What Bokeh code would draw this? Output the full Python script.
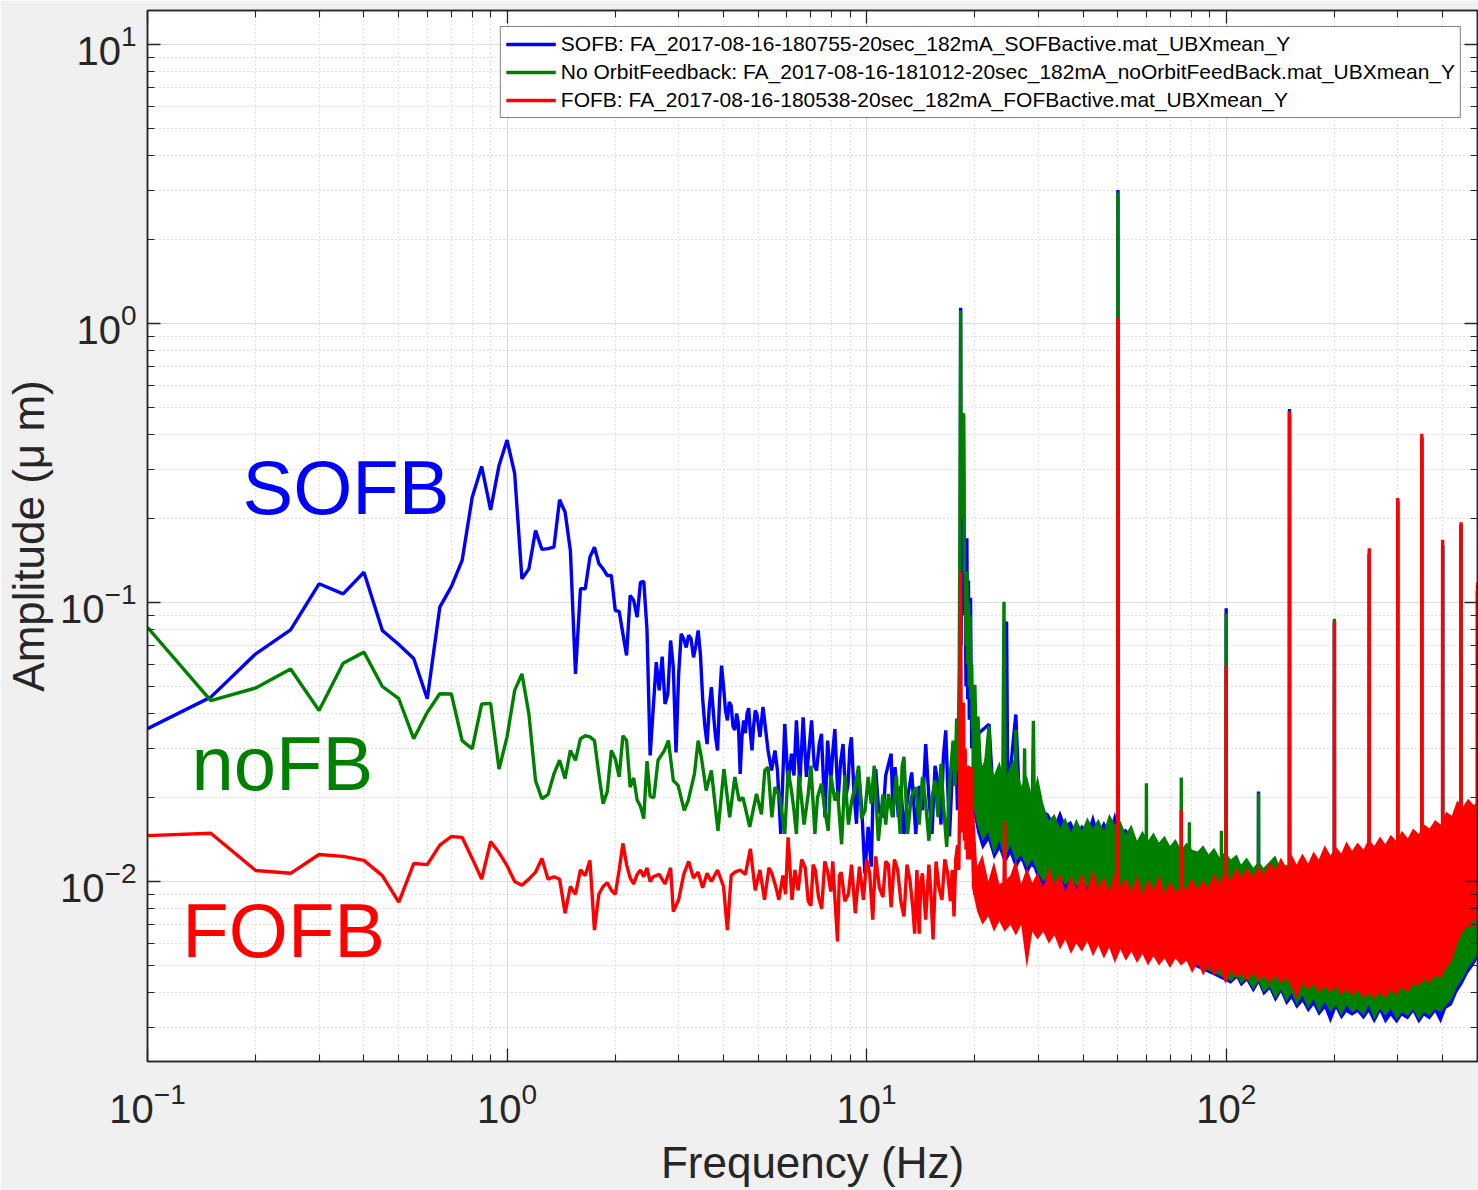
from bokeh.plotting import figure
from bokeh.models import Range1d, FixedTicker, LogAxis, Legend, LegendItem, CustomJSTickFormatter
from bokeh.embed import file_html
from bokeh.resources import INLINE
from bokeh.core.properties import value

FONT = "Liberation Sans"
BLUE, GREEN, RED = "#0000ff", "#008000", "#ff0000"

# ---------------- data (frequency in Hz, amplitude in um) ----------------
f_low = [0.10, 0.15, 0.20, 0.25, 0.30, 0.35, 0.40, 0.45, 0.50, 0.55,
         0.60, 0.65, 0.70, 0.75, 0.80, 0.85, 0.90, 0.95, 1.00, 1.05,
         1.10, 1.15, 1.20, 1.25, 1.30, 1.35, 1.40, 1.45, 1.50, 1.55,
         1.60, 1.65, 1.70, 1.75, 1.80, 1.85, 1.90, 1.95, 2.00, 2.05,
         2.10, 2.15, 2.20, 2.25, 2.30, 2.35, 2.40, 2.45, 2.50]

sofb_low = [0.0353, 0.0458, 0.0655, 0.0798, 0.1167, 0.1074, 0.1284, 0.0794, 0.0707, 0.0630,
            0.0452, 0.0962, 0.114, 0.1415, 0.2384, 0.3073, 0.2148, 0.310, 0.382, 0.290,
            0.1216, 0.132, 0.181, 0.155, 0.156, 0.158, 0.2335, 0.211, 0.1536, 0.0555,
            0.112, 0.112, 0.1454, 0.158, 0.138, 0.132, 0.125, 0.125, 0.0936, 0.093,
            0.0772, 0.0646, 0.106, 0.1017, 0.0886, 0.118, 0.119, 0.080, 0.0283]

nofb_low = [0.0815, 0.0445, 0.0494, 0.0578, 0.041, 0.0606, 0.0664, 0.050, 0.0452, 0.0325,
            0.0404, 0.0471, 0.047, 0.032, 0.0299, 0.0433, 0.0435, 0.0253, 0.033, 0.0484,
            0.0555, 0.0399, 0.023, 0.0198, 0.0205, 0.0243, 0.0272, 0.0234, 0.0295, 0.0272,
            0.0325, 0.0333, 0.033, 0.032, 0.0243, 0.019, 0.021, 0.0295, 0.0275, 0.0237,
            0.0333, 0.032, 0.0218, 0.0235, 0.0196, 0.0186, 0.0168, 0.027, 0.0202]

fofb_low = [0.0146, 0.0149, 0.01095, 0.0107, 0.0125, 0.0123, 0.0119, 0.0105, 0.00843, 0.0116,
            0.0115, 0.0135, 0.0145, 0.0144, 0.0121, 0.0102, 0.0139, 0.0127, 0.0114, 0.0100,
            0.0097, 0.0102, 0.0108, 0.0121, 0.0102, 0.0104, 0.0102, 0.0077, 0.0096, 0.0090,
            0.0110, 0.0105, 0.0119, 0.0067, 0.0090, 0.0096, 0.0099, 0.0093, 0.0090, 0.0110,
            0.0137, 0.0115, 0.0103, 0.0098, 0.0106, 0.0110, 0.0104, 0.0112, 0.0100]

sofb_mid = [(2.60, 0.0611), (2.65, 0.0484), (2.70, 0.0640), (2.75, 0.0433), (2.80, 0.0470),
            (2.85, 0.0731), (2.90, 0.0586), (2.95, 0.0290), (3.00, 0.0550), (3.05, 0.0772),
            (3.10, 0.0740), (3.15, 0.0690), (3.20, 0.0763), (3.25, 0.0740), (3.30, 0.0636),
            (3.35, 0.0700), (3.40, 0.0794), (3.45, 0.0650), (3.50, 0.0450), (3.55, 0.0360),
            (3.60, 0.0311), (3.65, 0.0420), (3.70, 0.0497), (3.75, 0.0400), (3.80, 0.0330),
            (3.85, 0.0295), (3.90, 0.0450), (3.95, 0.0594), (4.00, 0.0500), (4.05, 0.0410),
            (4.10, 0.0378), (4.15, 0.0440), (4.20, 0.0427), (4.25, 0.0360), (4.30, 0.0349),
            (4.35, 0.0400), (4.40, 0.0368), (4.45, 0.0243), (4.50, 0.0330), (4.55, 0.0378),
            (4.60, 0.0340), (4.65, 0.0400), (4.70, 0.0418), (4.75, 0.0340), (4.80, 0.0295),
            (4.85, 0.0360), (4.90, 0.0410), (4.95, 0.0399), (5.05, 0.0330), (5.15, 0.0422),
            (5.32, 0.0295), (5.44, 0.0250), (5.56, 0.0295), (5.65, 0.0250), (5.77, 0.0148),
            (5.92, 0.0367), (6.05, 0.0224), (6.18, 0.0287), (6.28, 0.0240), (6.38, 0.0378),
            (6.52, 0.0224), (6.66, 0.0388), (6.80, 0.0237), (6.92, 0.0300), (7.03, 0.0378),
            (7.15, 0.0260), (7.26, 0.0250), (7.38, 0.0310), (7.49, 0.0338), (7.66, 0.0170),
            (7.79, 0.0320), (7.95, 0.0230), (8.05, 0.0290), (8.16, 0.0352), (8.33, 0.0195),
            (8.47, 0.0270), (8.60, 0.0311), (8.75, 0.0200), (8.88, 0.0224), (8.98, 0.0300),
            (9.07, 0.0329), (9.22, 0.0210), (9.37, 0.0161), (9.50, 0.0250), (9.70, 0.0180),
            (9.89, 0.0107), (10.1, 0.0157), (10.3, 0.0113), (10.45, 0.0237), (10.6, 0.0253),
            (10.8, 0.0180), (11.1, 0.0170), (11.3, 0.0240), (11.7, 0.0287), (11.85, 0.0170),
            (12.0, 0.0257), (12.25, 0.0170), (12.45, 0.0220), (12.7, 0.0148), (13.0, 0.0200),
            (13.35, 0.0246), (13.7, 0.0148), (14.0, 0.0220), (14.3, 0.0180), (14.6, 0.0311),
            (14.9, 0.0200), (15.2, 0.0148), (15.5, 0.0260), (15.8, 0.0224), (16.1, 0.0160),
            (16.35, 0.0280), (16.6, 0.0348), (17.0, 0.0145), (17.3, 0.0240), (17.7, 0.0294),
            (17.9, 0.0180), (18.1, 0.0350), (18.2, 0.0600), (18.26, 1.140), (18.32, 0.0700),
            (18.4, 0.4500), (18.5, 0.0900), (18.6, 0.4700), (18.7, 0.1000), (18.8, 0.1300),
            (18.9, 0.0500), (19.0, 0.1700), (19.1, 0.0450), (19.2, 0.1200), (19.3, 0.0380),
            (19.45, 0.1040), (19.6, 0.0300), (19.8, 0.0500), (20.0, 0.0280)]

sofb_hf = [(20.5, 0.0340), (21.9, 0.0366), (22.5, 0.0200), (24.3, 0.0200), (24.5, 0.0855),
           (24.7, 0.0200), (26.0, 0.0397), (27.0, 0.0120), (49.9, 0.0080), (50.0, 3.010),
           (50.1, 0.0080), (99.9, 0.0080), (100.0, 0.0954), (100.1, 0.0080), (122.9, 0.0080),
           (123.0, 0.0210), (123.1, 0.0080), (149.9, 0.0070), (150.0, 0.494), (150.1, 0.0070),
           (199.9, 0.0070), (200.0, 0.0850), (200.1, 0.0070), (249.9, 0.0070), (250.0, 0.150),
           (250.1, 0.0070), (299.9, 0.0070), (300.0, 0.230), (300.1, 0.0070), (349.9, 0.0070),
           (350.0, 0.390), (350.1, 0.0070), (399.9, 0.0070), (400.0, 0.160), (400.1, 0.0070),
           (449.9, 0.0070), (450.0, 0.190), (450.1, 0.0070), (499.9, 0.0070), (500.0, 0.110)]

nofb_mid = [(2.56, 0.0200), (2.63, 0.0272), (2.74, 0.0295), (2.81, 0.0320), (2.90, 0.0230),
            (2.99, 0.0221), (3.11, 0.0180), (3.19, 0.0195), (3.32, 0.0243), (3.40, 0.0320),
            (3.47, 0.0279), (3.58, 0.0212), (3.70, 0.0250), (3.86, 0.0152), (4.01, 0.0253),
            (4.16, 0.0170), (4.30, 0.0237), (4.42, 0.0195), (4.53, 0.0200), (4.73, 0.0157),
            (4.94, 0.0206), (5.10, 0.0174), (5.21, 0.0250), (5.32, 0.0257), (5.45, 0.0170),
            (5.56, 0.0218), (5.74, 0.0200), (5.92, 0.0148), (6.05, 0.0250), (6.18, 0.0212),
            (6.28, 0.0180), (6.38, 0.0148), (6.48, 0.0240), (6.59, 0.0198), (6.70, 0.0160),
            (6.88, 0.0206), (7.00, 0.0260), (7.18, 0.0148), (7.30, 0.0200), (7.49, 0.0224),
            (7.65, 0.0180), (7.82, 0.0152), (7.95, 0.0240), (8.16, 0.0195), (8.30, 0.0210),
            (8.52, 0.0136), (8.70, 0.0240), (8.90, 0.0160), (9.09, 0.0195), (9.30, 0.0220),
            (9.50, 0.0260), (9.68, 0.0168), (9.90, 0.0180), (10.1, 0.0237), (10.3, 0.0190),
            (10.5, 0.0260), (10.78, 0.0140), (11.1, 0.0205), (11.3, 0.0160), (11.5, 0.0206),
            (11.8, 0.0170), (12.1, 0.0240), (12.4, 0.0148), (12.55, 0.0257), (12.7, 0.0280),
            (13.0, 0.0148), (13.3, 0.0200), (13.7, 0.0218), (14.0, 0.0160), (14.3, 0.0237),
            (14.6, 0.0190), (14.9, 0.0140), (15.2, 0.0200), (15.5, 0.0230), (15.8, 0.0170),
            (16.1, 0.0264), (16.4, 0.0180), (16.7, 0.0133), (17.0, 0.0220), (17.4, 0.0320),
            (17.6, 0.0220), (17.8, 0.0384), (17.95, 0.0250), (18.1, 0.0600), (18.2, 0.3000),
            (18.26, 1.110), (18.32, 0.2000), (18.4, 0.4800), (18.5, 0.2500), (18.6, 0.4770),
            (18.7, 0.1300), (18.8, 0.1290), (18.9, 0.0700), (19.0, 0.1290), (19.1, 0.0600),
            (19.2, 0.1000), (19.3, 0.0500), (19.4, 0.0900), (19.5, 0.0450), (19.6, 0.0600),
            (19.7, 0.0350), (19.8, 0.0507), (19.9, 0.0300), (20.0, 0.0507), (20.2, 0.0280),
            (20.4, 0.0390), (20.7, 0.0260)]

nofb_hf = [(21.0, 0.0200), (21.9, 0.0360), (22.1, 0.0200), (23.9, 0.0200), (24.1, 0.1006),
           (24.3, 0.0200), (25.9, 0.0200), (26.0, 0.0350), (26.1, 0.0200), (27.4, 0.0200),
           (27.5, 0.0300), (27.6, 0.0180), (28.9, 0.0200), (29.1, 0.0377), (29.3, 0.0150),
           (49.9, 0.0080), (50.0, 2.950), (50.1, 0.0080),
           (59.9, 0.0080), (60.0, 0.0225), (60.1, 0.0080), (74.9, 0.0080), (75.0, 0.0236),
           (75.1, 0.0080), (78.9, 0.0080), (79.0, 0.0163), (79.1, 0.0080), (96.9, 0.0080),
           (97.0, 0.0152), (97.1, 0.0080), (99.9, 0.0080), (100.0, 0.0911), (100.1, 0.0080),
           (122.9, 0.0080), (123.0, 0.0207), (123.1, 0.0080), (149.9, 0.0070), (150.0, 0.485),
           (150.1, 0.0070), (199.9, 0.0070), (200.0, 0.0874), (200.1, 0.0070), (249.9, 0.0070),
           (250.0, 0.150), (250.1, 0.0070), (299.9, 0.0070), (300.0, 0.230), (300.1, 0.0070),
           (349.9, 0.0070), (350.0, 0.390), (350.1, 0.0070), (399.9, 0.0070), (400.0, 0.160),
           (400.1, 0.0070), (449.9, 0.0070), (450.0, 0.190), (450.1, 0.0070), (499.9, 0.0070),
           (500.0, 0.110)]

fofb_mid = [(2.55, 0.0104), (2.65, 0.0106), (2.75, 0.0098), (2.85, 0.0112), (2.90, 0.0078),
            (3.00, 0.0086), (3.10, 0.0106), (3.20, 0.0118), (3.30, 0.0103), (3.40, 0.0108),
            (3.50, 0.0095), (3.60, 0.0107), (3.70, 0.0100), (3.85, 0.0110), (4.00, 0.0096),
            (4.10, 0.0067), (4.20, 0.0105), (4.30, 0.0108), (4.45, 0.0110), (4.60, 0.0106),
            (4.75, 0.0131), (4.90, 0.0093), (5.05, 0.0110), (5.20, 0.0086), (5.35, 0.0112),
            (5.45, 0.0107), (5.60, 0.0095), (5.70, 0.0086), (5.85, 0.0105), (5.95, 0.0090),
            (6.05, 0.0144), (6.20, 0.0086), (6.32, 0.0110), (6.45, 0.0093), (6.60, 0.0120),
            (6.75, 0.0112), (6.88, 0.0085), (7.00, 0.0082), (7.10, 0.0115), (7.20, 0.0110),
            (7.35, 0.0088), (7.50, 0.0080), (7.65, 0.0118), (7.80, 0.0108), (7.95, 0.0092),
            (8.05, 0.0118), (8.15, 0.0090), (8.30, 0.0061), (8.40, 0.0105), (8.50, 0.0108),
            (8.70, 0.0085), (8.90, 0.0090), (9.08, 0.0115), (9.30, 0.0077), (9.55, 0.0113),
            (9.80, 0.0086), (10.0, 0.0120), (10.2, 0.0107), (10.4, 0.0073), (10.6, 0.0123),
            (10.85, 0.0095), (11.1, 0.0088), (11.3, 0.0118), (11.5, 0.0115), (11.7, 0.0081),
            (11.95, 0.0120), (12.2, 0.0110), (12.45, 0.0085), (12.7, 0.0075), (12.95, 0.0115),
            (13.2, 0.0101), (13.45, 0.0080), (13.6, 0.0065), (13.8, 0.0110), (14.0, 0.0065),
            (14.15, 0.0100), (14.3, 0.0107), (14.6, 0.0073), (14.9, 0.0115), (15.1, 0.0090),
            (15.3, 0.0062), (15.6, 0.0118), (15.9, 0.0095), (16.2, 0.0086), (16.5, 0.0120),
            (16.8, 0.0107), (17.1, 0.0085), (17.3, 0.0110), (17.5, 0.0075), (17.7, 0.0120),
            (17.9, 0.0135), (18.05, 0.0110), (18.15, 0.0200), (18.26, 0.1290), (18.35, 0.0150),
            (18.45, 0.0350), (18.6, 0.0438), (18.7, 0.0140), (18.8, 0.0300), (18.9, 0.0130),
            (19.0, 0.0180), (19.1, 0.0120), (19.2, 0.0260), (19.35, 0.0120), (19.5, 0.0200),
            (19.6, 0.0257), (19.8, 0.0110), (20.0, 0.0090)]

fofb_hf = [(24.1, 0.0090), (24.2, 0.0164), (24.3, 0.0090), (49.9, 0.0070), (50.0, 1.053),
           (50.1, 0.0070), (74.9, 0.0070), (75.0, 0.0180), (75.1, 0.0070), (99.9, 0.0070),
           (100.0, 0.0594), (100.1, 0.0070), (149.9, 0.0070), (150.0, 0.481), (150.1, 0.0070),
           (199.9, 0.0070), (200.0, 0.0857), (200.1, 0.0070), (249.9, 0.0070), (250.0, 0.1566),
           (250.1, 0.0070), (299.9, 0.0070), (300.0, 0.237), (300.1, 0.0070), (349.9, 0.0070),
           (350.0, 0.403), (350.1, 0.0070), (399.9, 0.0070), (400.0, 0.168), (400.1, 0.0070),
           (449.9, 0.0070), (450.0, 0.194), (450.1, 0.0070), (499.9, 0.0070), (500.0, 0.118)]

# dense high-frequency part: envelope (min / max) of each spectrum
band_f = [19.6, 20.3, 21.0, 21.8, 22.6, 23.4, 24.2, 25.1, 26.0, 26.9,
          27.9, 28.9, 29.9, 31.0, 32.1, 33.3, 34.5, 35.7, 37.0, 38.3,
          39.7, 41.1, 42.6, 44.1, 45.7, 47.3, 49.0, 50.8, 52.6, 54.5,
          56.5, 58.5, 60.6, 62.8, 65.0, 67.4, 69.8, 72.3, 74.9, 77.6,
          80.4, 83.3, 86.3, 89.4, 92.6, 95.9, 99.4, 103, 107, 110,
          114, 119, 123, 127, 132, 137, 142, 147, 152, 157,
          163, 169, 175, 181, 188, 195, 202, 209, 216, 224,
          232, 241, 249, 258, 268, 277, 287, 298, 308, 320,
          331, 343, 355, 368, 381, 395, 409, 424, 439, 455,
          471, 488, 500]

sofb_hi = [0.0360, 0.0280, 0.0250, 0.0270, 0.0230, 0.0250, 0.0220, 0.0240, 0.0260, 0.0210,
           0.0230, 0.0190, 0.0220, 0.0180, 0.0175, 0.0160, 0.0180, 0.0160, 0.0165, 0.0150,
           0.0160, 0.0150, 0.0175, 0.0150, 0.0165, 0.0150, 0.0178, 0.0150, 0.0155, 0.0145,
           0.0138, 0.0148, 0.0135, 0.0145, 0.0132, 0.0140, 0.0130, 0.0138, 0.0128, 0.0135,
           0.0128, 0.0126, 0.0132, 0.0122, 0.0130, 0.0120, 0.0120, 0.0118, 0.0122, 0.0113,
           0.0120, 0.0110, 0.0116, 0.0110, 0.0116, 0.0120, 0.0108, 0.0113, 0.0106, 0.0110,
           0.0103, 0.0108, 0.0102, 0.0106, 0.0102, 0.0106, 0.0101, 0.0105, 0.0101, 0.0104,
           0.0100, 0.0104, 0.0100, 0.0103, 0.0099, 0.0102, 0.0098, 0.0101, 0.0098, 0.0100,
           0.0097, 0.0099, 0.0096, 0.0098, 0.0095, 0.0096, 0.0093, 0.0092, 0.0088, 0.0086,
           0.0083, 0.0080, 0.0078]
sofb_lo = [0.0190, 0.0150, 0.0130, 0.0140, 0.0120, 0.0130, 0.0115, 0.0125, 0.0110, 0.0120,
           0.0105, 0.0115, 0.0102, 0.0095, 0.0100, 0.0093, 0.0098, 0.0092, 0.0097, 0.0091,
           0.0096, 0.0090, 0.0095, 0.0089, 0.0093, 0.0088, 0.0092, 0.0087, 0.0090, 0.0085,
           0.0080, 0.0076, 0.0072, 0.0068, 0.0064, 0.0060, 0.0057, 0.0055, 0.0053, 0.0052,
           0.0050, 0.0049, 0.0048, 0.0047, 0.0046, 0.0045, 0.0044, 0.0043, 0.0045, 0.0042,
           0.0044, 0.0040, 0.0043, 0.0039, 0.0041, 0.0037, 0.0040, 0.0036, 0.0038, 0.0035,
           0.0037, 0.0034, 0.0036, 0.0033, 0.0035, 0.0031, 0.0035, 0.0032, 0.0034, 0.0033,
           0.0034, 0.0032, 0.0034, 0.0031, 0.0034, 0.0031, 0.0033, 0.0031, 0.0033, 0.0032,
           0.0034, 0.0031, 0.0033, 0.0032, 0.0034, 0.0031, 0.0035, 0.0036, 0.0040, 0.0043,
           0.0047, 0.0050, 0.0053]

nofb_hi = [0.0400, 0.0300, 0.0260, 0.0300, 0.0240, 0.0270, 0.0230, 0.0260, 0.0280, 0.0220,
           0.0240, 0.0200, 0.0240, 0.0190, 0.0165, 0.0175, 0.0155, 0.0170, 0.0150, 0.0168,
           0.0152, 0.0170, 0.0155, 0.0168, 0.0152, 0.0175, 0.0160, 0.0165, 0.0148, 0.0160,
           0.0140, 0.0152, 0.0140, 0.0150, 0.0138, 0.0146, 0.0134, 0.0142, 0.0130, 0.0138,
           0.0130, 0.0128, 0.0135, 0.0125, 0.0132, 0.0122, 0.0128, 0.0120, 0.0125, 0.0115,
           0.0122, 0.0112, 0.0118, 0.0112, 0.0118, 0.0124, 0.0110, 0.0115, 0.0108, 0.0112,
           0.0105, 0.0110, 0.0104, 0.0108, 0.0104, 0.0108, 0.0103, 0.0107, 0.0103, 0.0106,
           0.0102, 0.0106, 0.0102, 0.0105, 0.0101, 0.0104, 0.0100, 0.0103, 0.0100, 0.0102,
           0.0099, 0.0101, 0.0098, 0.0100, 0.0097, 0.0098, 0.0095, 0.0094, 0.0090, 0.0088,
           0.0085, 0.0082, 0.0080]
nofb_lo = [0.0200, 0.0160, 0.0140, 0.0150, 0.0125, 0.0140, 0.0120, 0.0135, 0.0118, 0.0125,
           0.0112, 0.0120, 0.0108, 0.0100, 0.0105, 0.0098, 0.0104, 0.0097, 0.0102, 0.0096,
           0.0101, 0.0095, 0.0100, 0.0094, 0.0098, 0.0093, 0.0097, 0.0092, 0.0095, 0.0090,
           0.0085, 0.0080, 0.0075, 0.0070, 0.0066, 0.0062, 0.0058, 0.0056, 0.0054, 0.0053,
           0.0051, 0.0050, 0.0049, 0.0048, 0.0047, 0.0046, 0.0045, 0.0044, 0.0046, 0.0043,
           0.0045, 0.0041, 0.0044, 0.0040, 0.0042, 0.0038, 0.0041, 0.0037, 0.0040, 0.0036,
           0.0039, 0.0035, 0.0038, 0.0034, 0.0037, 0.0034, 0.0036, 0.0033, 0.0036, 0.0034,
           0.0035, 0.0033, 0.0036, 0.0032, 0.0035, 0.0033, 0.0035, 0.0032, 0.0034, 0.0033,
           0.0035, 0.0032, 0.0034, 0.0033, 0.0035, 0.0034, 0.0036, 0.0038, 0.0042, 0.0045,
           0.0049, 0.0052, 0.0055]

fofb_hi = [0.0257, 0.0113, 0.0125, 0.0100, 0.0118, 0.0098, 0.0100, 0.0105, 0.0120, 0.0098,
           0.0112, 0.0099, 0.0108, 0.0095, 0.0113, 0.0098, 0.0107, 0.0092, 0.0105, 0.0094,
           0.0108, 0.0093, 0.0110, 0.0095, 0.0104, 0.0092, 0.0107, 0.0096, 0.0103, 0.0092,
           0.0106, 0.0090, 0.0102, 0.0093, 0.0106, 0.0091, 0.0100, 0.0092, 0.0096, 0.0094,
           0.0103, 0.0094, 0.0101, 0.0095, 0.0107, 0.0098, 0.0110, 0.0101, 0.0113, 0.0103,
           0.0112, 0.0104, 0.0114, 0.0106, 0.0117, 0.0110, 0.0122, 0.0112, 0.0125, 0.0115,
           0.0126, 0.0116, 0.0128, 0.0120, 0.0135, 0.0124, 0.0133, 0.0126, 0.0139, 0.0129,
           0.0138, 0.0130, 0.0142, 0.0134, 0.0145, 0.0136, 0.0147, 0.0139, 0.0152, 0.0143,
           0.0155, 0.0148, 0.0160, 0.0155, 0.0166, 0.0160, 0.0178, 0.0172, 0.0195, 0.0185,
           0.0198, 0.0188, 0.0192]
fofb_lo = [0.0096, 0.0078, 0.0070, 0.0075, 0.0066, 0.0072, 0.0066, 0.0070, 0.0064, 0.0070,
           0.0049, 0.0066, 0.0062, 0.0066, 0.0060, 0.0064, 0.0057, 0.0062, 0.0055, 0.0060,
           0.0056, 0.0061, 0.0054, 0.0059, 0.0053, 0.0058, 0.0051, 0.0057, 0.0052, 0.0056,
           0.0051, 0.0055, 0.0050, 0.0054, 0.0050, 0.0053, 0.0049, 0.0053, 0.0050, 0.0052,
           0.0047, 0.0051, 0.0046, 0.0050, 0.0046, 0.0049, 0.0043, 0.0048, 0.0045, 0.0047,
           0.0044, 0.0047, 0.0044, 0.0046, 0.0043, 0.0046, 0.0043, 0.0045, 0.0042, 0.0038,
           0.0043, 0.0041, 0.0043, 0.0040, 0.0042, 0.0040, 0.0042, 0.0039, 0.0041, 0.0039,
           0.0041, 0.0038, 0.0040, 0.0038, 0.0040, 0.0038, 0.0041, 0.0039, 0.0042, 0.0040,
           0.0043, 0.0042, 0.0045, 0.0043, 0.0046, 0.0045, 0.0049, 0.0052, 0.0060, 0.0066,
           0.0070, 0.0073, 0.0074]

legend_labels = [
    "SOFB: FA_2017-08-16-180755-20sec_182mA_SOFBactive.mat_UBXmean_Y",
    "No OrbitFeedback: FA_2017-08-16-181012-20sec_182mA_noOrbitFeedBack.mat_UBXmean_Y",
    "FOFB: FA_2017-08-16-180538-20sec_182mA_FOFBactive.mat_UBXmean_Y",
]

x_major = [0.1, 1, 10, 100]
y_major = [0.01, 0.1, 1, 10]


def series(low, mid, hf):
    xs = f_low + [f for f, _ in mid] + [f for f, _ in hf]
    ys = low + [a for _, a in mid] + [a for _, a in hf]
    return xs, ys


# ---------------- figure ----------------
p = figure(width=1478, height=1190, x_axis_type="log", y_axis_type="log",
           x_range=Range1d(0.1, 500), y_range=Range1d(0.002264, 13.24),
           output_backend="svg", toolbar_location=None,
           min_border_left=147, min_border_right=1, min_border_top=10, min_border_bottom=129)
p.border_fill_color = "#f0f0f0"
p.background_fill_color = "white"
p.outline_line_color = "#262626"
p.outline_line_width = 1.5

x_minor = [m * d for d in [0.1, 1, 10, 100] for m in range(2, 10) if m * d <= 500]
y_minor = [m * d for d in [0.001, 0.01, 0.1, 1] for m in range(2, 10)]
xt = FixedTicker(ticks=x_major, minor_ticks=x_minor)
yt = FixedTicker(ticks=y_major, minor_ticks=y_minor)
p.xaxis.ticker = xt
p.yaxis.ticker = yt
p.xgrid.ticker = xt
p.ygrid.ticker = yt

for g in (p.xgrid, p.ygrid):
    g.grid_line_color = "#dcdcdc"
    g.grid_line_width = 1
    g.minor_grid_line_color = "#c2c2c2"
    g.minor_grid_line_dash = "1 3"
    g.minor_grid_line_width = 1


def style_axis(ax):
    ax.axis_line_color = "#262626"
    ax.axis_line_width = 1.5
    ax.major_tick_line_color = "#262626"
    ax.minor_tick_line_color = "#262626"
    ax.major_tick_line_width = 1.3
    ax.minor_tick_line_width = 1.1
    ax.major_tick_in = 13
    ax.major_tick_out = 0
    ax.minor_tick_in = 7
    ax.minor_tick_out = 0
    ax.major_label_text_font = FONT
    ax.major_label_text_font_size = "40px"
    ax.major_label_text_color = "#262626"
    ax.axis_label_text_font = FONT
    ax.axis_label_text_font_size = "44px"
    ax.axis_label_text_font_style = "normal"
    ax.axis_label_text_color = "#262626"


for ax in (p.xaxis[0], p.yaxis[0]):
    style_axis(ax)
p.xaxis.axis_label = "Frequency (Hz)"
p.yaxis.axis_label = "Amplitude (\u03bc m)"
p.xaxis.major_label_standoff = 20
p.xaxis.axis_label_standoff = 12
p.yaxis.major_label_standoff = 11
p.yaxis.axis_label_standoff = 4

blank = CustomJSTickFormatter(code="return ''")
top_ax = LogAxis(ticker=xt, formatter=blank)
right_ax = LogAxis(ticker=yt, formatter=blank)
for ax in (top_ax, right_ax):
    style_axis(ax)
    ax.major_label_text_font_size = "1px"
    ax.major_label_standoff = 0
p.add_layout(top_ax, "above")
p.add_layout(right_ax, "right")

# ---------------- glyphs ----------------
sx, sy = series(sofb_low, sofb_mid, sofb_hf)
nx, ny = series(nofb_low, nofb_mid, nofb_hf)
fx, fy = series(fofb_low, fofb_mid, fofb_hf)

LW = 3.4
p.varea(x=band_f, y1=sofb_lo, y2=sofb_hi, fill_color=BLUE)
r_s = p.line(sx, sy, line_color=BLUE, line_width=LW)
p.varea(x=band_f, y1=nofb_lo, y2=nofb_hi, fill_color=GREEN)
r_n = p.line(nx, ny, line_color=GREEN, line_width=LW)
p.varea(x=band_f, y1=fofb_lo, y2=fofb_hi, fill_color=RED)
r_f = p.line(fx, fy, line_color=RED, line_width=LW)

for txt, xx, yy, col in [("SOFB", 0.1837, 0.258, BLUE),
                         ("noFB", 0.1325, 0.0265, GREEN),
                         ("FOFB", 0.125, 0.00668, RED)]:
    p.text(x=[xx], y=[yy], text=[txt], text_color=col, text_font=value(FONT),
           text_font_size="76px", text_baseline="alphabetic", text_align="left")

legend = Legend(items=[LegendItem(label=legend_labels[0], renderers=[r_s]),
                       LegendItem(label=legend_labels[1], renderers=[r_n]),
                       LegendItem(label=legend_labels[2], renderers=[r_f])],
                location="top_right", margin=16, padding=5, spacing=4,
                label_text_font=FONT, label_text_font_size="21px", label_text_color="black",
                glyph_width=50, glyph_height=24, label_height=24, label_standoff=5,
                border_line_color="black", border_line_width=1,
                background_fill_color="white", background_fill_alpha=1.0)
p.add_layout(legend)

open("out.html", "w").write(file_html(p, INLINE))
